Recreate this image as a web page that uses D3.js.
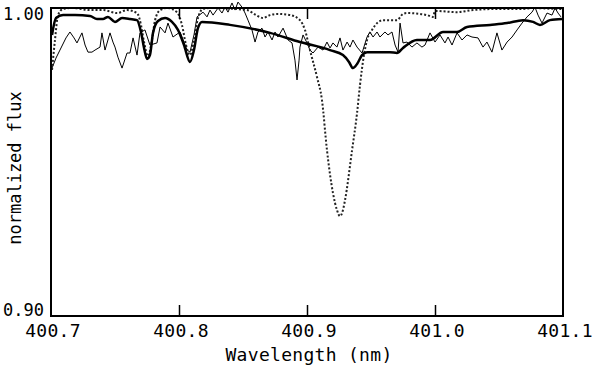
<!DOCTYPE html>
<html lang="en">
<head>
    <meta charset="UTF-8">
    <title>Normalized flux spectrum</title>
    <script src="https://d3js.org/d3.v7.min.js"></script>
    <style>
        body {
            margin: 0;
            background-color: white;
        }
        .lbl {
            font-family: 'DejaVu Sans Mono', monospace;
            font-size: 18px;
            letter-spacing: 0.3px;
            fill: #000;
        }
        .ylbl {
            font-size: 17px;
            letter-spacing: 0;
        }
    </style>
</head>
<body>
    <div id="chart"></div>

    <script>
        // Axis ticks
        const xTicks = [400.7, 400.8, 400.9, 401.0, 401.1];
        const xTickLabels = ["400.7", "400.8", "400.9", "401.0", "401.1"];
        const yTicks = [0.90, 1.00];
        const yTickLabels = ["0.90", "1.00"];

        // Thick solid line (smooth model)
        const modelWl = [400.7008, 400.7039, 400.7094, 400.7188, 400.7305, 400.7359, 400.7406, 400.7445, 400.7500, 400.7555,
            400.7617, 400.7672, 400.7703, 400.7727, 400.7750, 400.7773, 400.7797, 400.7836, 400.7891, 400.7945,
            400.7992, 400.8039, 400.8086, 400.8117, 400.8148, 400.8180, 400.8398, 400.8711, 400.8945, 400.9180,
            400.9281, 400.9328, 400.9359, 400.9391, 400.9430, 400.9469, 400.9648, 400.9703, 400.9750, 400.9859,
            400.9961, 401.0063, 401.0172, 401.0250, 401.0430, 401.0563, 401.0688, 401.0766, 401.0820, 401.0898, 401.0992];
        const modelFlux = [0.9929, 0.9986, 0.9996, 0.9996, 0.9993, 0.9983, 0.9983, 0.9990, 0.9973, 0.9986,
            0.9983, 0.9979, 0.9939, 0.9885, 0.9848, 0.9861, 0.9936, 0.9976, 0.9986, 0.9973,
            0.9946, 0.9895, 0.9838, 0.9878, 0.9952, 0.9973, 0.9963, 0.9936, 0.9905, 0.9878,
            0.9861, 0.9838, 0.9817, 0.9831, 0.9861, 0.9871, 0.9871, 0.9868, 0.9885, 0.9912,
            0.9912, 0.9939, 0.9939, 0.9956, 0.9963, 0.9969, 0.9979, 0.9973, 0.9963, 0.9979, 0.9983];

        // Dotted line (second model with the deep line)
        const dotWl = [400.7008, 400.7031, 400.7055, 400.7094, 400.7172, 400.7305, 400.7406, 400.7516, 400.7594, 400.7672,
            400.7703, 400.7727, 400.7758, 400.7789, 400.7813, 400.7852, 400.7906, 400.7984, 400.8023, 400.8055,
            400.8086, 400.8117, 400.8148, 400.8188, 400.8242, 400.8531, 400.8602, 400.8656, 400.8711, 400.8766,
            400.8867, 400.8945, 400.8984, 400.9023, 400.9078, 400.9117, 400.9156, 400.9203, 400.9234, 400.9258,
            400.9281, 400.9297, 400.9352, 400.9391, 400.9414, 400.9445, 400.9469, 400.9508, 400.9594, 400.9703,
            400.9750, 400.9781, 400.9938, 400.9984, 401.0000, 401.0172, 401.0297, 401.0508, 401.0688, 401.0766,
            401.0953, 401.0992];
        const dotFlux = [0.9811, 0.9912, 0.9996, 1.0017, 1.0020, 1.0013, 1.0013, 1.0003, 1.0013, 1.0003,
            0.9963, 0.9905, 0.9858, 0.9912, 0.9979, 1.0013, 1.0020, 1.0006, 0.9963, 0.9895,
            0.9861, 0.9912, 0.9986, 1.0017, 1.0020, 1.0013, 0.9996, 0.9986, 0.9996, 1.0000,
            0.9996, 0.9979, 0.9946, 0.9878, 0.9787, 0.9709, 0.9540, 0.9395, 0.9338, 0.9317,
            0.9338, 0.9371, 0.9540, 0.9665, 0.9760, 0.9861, 0.9912, 0.9946, 0.9979, 0.9979,
            1.0000, 1.0003, 0.9996, 0.9990, 1.0010, 1.0006, 1.0013, 1.0017, 1.0017, 1.0020,
            1.0017, 1.0017];

        // Thin solid line (observed spectrum)
        const obsWl = [400.7008, 400.7039, 400.7070, 400.7117, 400.7148, 400.7180, 400.7203, 400.7242, 400.7266, 400.7289,
            400.7320, 400.7344, 400.7383, 400.7398, 400.7422, 400.7461, 400.7484, 400.7500, 400.7523, 400.7555,
            400.7594, 400.7617, 400.7641, 400.7672, 400.7695, 400.7734, 400.7773, 400.7828, 400.7852, 400.7891,
            400.7914, 400.7953, 400.8008, 400.8039, 400.8063, 400.8086, 400.8117, 400.8141, 400.8188, 400.8219,
            400.8242, 400.8266, 400.8305, 400.8336, 400.8359, 400.8383, 400.8414, 400.8438, 400.8461, 400.8492,
            400.8516, 400.8539, 400.8570, 400.8594, 400.8617, 400.8648, 400.8672, 400.8695, 400.8727, 400.8750,
            400.8773, 400.8813, 400.8852, 400.8883, 400.8906, 400.8922, 400.8938, 400.8945, 400.8969, 400.9000,
            400.9023, 400.9047, 400.9086, 400.9125, 400.9156, 400.9180, 400.9203, 400.9234, 400.9258, 400.9281,
            400.9313, 400.9336, 400.9359, 400.9391, 400.9430, 400.9469, 400.9492, 400.9516, 400.9547, 400.9570,
            400.9609, 400.9633, 400.9664, 400.9688, 400.9711, 400.9727, 400.9750, 400.9781, 400.9820, 400.9859,
            400.9898, 400.9922, 400.9961, 401.0000, 401.0039, 401.0078, 401.0102, 401.0133, 401.0172, 401.0211,
            401.0250, 401.0289, 401.0336, 401.0375, 401.0406, 401.0445, 401.0484, 401.0523, 401.0563, 401.0602,
            401.0641, 401.0680, 401.0719, 401.0758, 401.0781, 401.0805, 401.0836, 401.0875, 401.0914, 401.0938,
            401.0961, 401.0984];
        const obsFlux = [0.9817, 0.9851, 0.9878, 0.9919, 0.9939, 0.9919, 0.9902, 0.9936, 0.9895, 0.9871,
            0.9871, 0.9878, 0.9888, 0.9936, 0.9878, 0.9936, 0.9905, 0.9888, 0.9854, 0.9817,
            0.9868, 0.9868, 0.9919, 0.9861, 0.9936, 0.9946, 0.9895, 0.9902, 0.9956, 0.9936,
            0.9969, 0.9922, 0.9939, 0.9905, 0.9878, 0.9871, 0.9929, 0.9990, 1.0006, 0.9990,
            1.0013, 0.9996, 1.0020, 1.0003, 1.0023, 1.0006, 1.0037, 1.0013, 1.0040, 1.0023,
            1.0003, 0.9979, 0.9946, 0.9905, 0.9939, 0.9952, 0.9922, 0.9939, 0.9912, 0.9939,
            0.9922, 0.9952, 0.9912, 0.9902, 0.9844, 0.9777, 0.9844, 0.9888, 0.9929, 0.9902,
            0.9878, 0.9868, 0.9888, 0.9878, 0.9905, 0.9885, 0.9902, 0.9888, 0.9919, 0.9878,
            0.9905, 0.9888, 0.9912, 0.9888, 0.9868, 0.9922, 0.9939, 0.9922, 0.9939, 0.9922,
            0.9939, 0.9929, 0.9939, 0.9895, 0.9871, 0.9969, 0.9902, 0.9905, 0.9888, 0.9902,
            0.9888, 0.9895, 0.9936, 0.9905, 0.9929, 0.9902, 0.9922, 0.9895, 0.9936, 0.9912,
            0.9929, 0.9922, 0.9919, 0.9888, 0.9905, 0.9871, 0.9936, 0.9878, 0.9905, 0.9922,
            0.9946, 0.9969, 0.9990, 1.0006, 1.0023, 0.9996, 0.9969, 1.0003, 0.9996, 1.0020,
            1.0003, 0.9990];

        const W = 593, H = 368;
        const margin = {top: 8, right: 30, bottom: 52, left: 51};

        const svg = d3.select("#chart")
            .append("svg")
            .attr("width", W)
            .attr("height", H);

        const x = d3.scaleLinear()
            .domain([400.7, 401.1])
            .range([margin.left, W - margin.right]);

        const y = d3.scaleLinear()
            .domain([0.898, 1.002])
            .range([H - margin.bottom, margin.top]);

        const toPts = (wl, fl) => wl.map((w, i) => [w, fl[i]]);

        const line = d3.line()
            .x(d => x(d[0]))
            .y(d => y(d[1]));

        const smooth = d3.line()
            .x(d => x(d[0]))
            .y(d => y(d[1]))
            .curve(d3.curveMonotoneX);

        // observed (thin)
        svg.append("path")
            .datum(toPts(obsWl, obsFlux))
            .attr("fill", "none")
            .attr("stroke", "#000")
            .attr("stroke-width", 1)
            .attr("d", line);

        // dotted model
        svg.append("path")
            .datum(toPts(dotWl, dotFlux))
            .attr("fill", "none")
            .attr("stroke", "#222")
            .attr("stroke-width", 2)
            .attr("stroke-dasharray", "2,2")
            .attr("d", smooth);

        // thick model
        svg.append("path")
            .datum(toPts(modelWl, modelFlux))
            .attr("fill", "none")
            .attr("stroke", "#000")
            .attr("stroke-width", 2.5)
            .attr("d", smooth);

        // frame
        const x0 = x.range()[0], x1 = x.range()[1];
        const y0 = y.range()[0], y1 = y.range()[1];
        svg.append("rect")
            .attr("x", x0)
            .attr("y", y1)
            .attr("width", x1 - x0)
            .attr("height", y0 - y1)
            .attr("fill", "none")
            .attr("stroke", "#000")
            .attr("stroke-width", 2);

        // bottom and top ticks
        const inner = xTicks.slice(1, -1);
        svg.append("g").attr("transform", `translate(0,${y0})`)
            .call(d3.axisBottom(x).tickValues(inner).tickSize(-11).tickFormat(""))
            .call(g => g.select(".domain").remove())
            .call(g => g.selectAll("line").attr("stroke-width", 1.5));
        svg.append("g").attr("transform", `translate(0,${y1})`)
            .call(d3.axisTop(x).tickValues(inner).tickSize(-11).tickFormat(""))
            .call(g => g.select(".domain").remove())
            .call(g => g.selectAll("line").attr("stroke-width", 1.5));

        // x tick labels
        svg.selectAll(".xl")
            .data(xTicks)
            .enter().append("text")
            .attr("class", "lbl")
            .attr("x", d => x(d) + 2)
            .attr("y", y0 + 21)
            .attr("text-anchor", "middle")
            .text((d, i) => xTickLabels[i]);

        // y tick labels
        svg.selectAll(".yl")
            .data(yTicks)
            .enter().append("text")
            .attr("class", "lbl ylbl")
            .attr("x", x0 - 7)
            .attr("y", d => y(d))
            .attr("dy", "0.35em")
            .attr("text-anchor", "end")
            .text((d, i) => yTickLabels[i]);

        // axis titles
        svg.append("text")
            .attr("class", "lbl")
            .attr("x", (x0 + x1) / 2 + 2)
            .attr("y", H - 7)
            .attr("text-anchor", "middle")
            .text("Wavelength (nm)");

        svg.append("text")
            .attr("class", "lbl ylbl")
            .attr("transform", `translate(21,${(y0 + y1) / 2 + 6}) rotate(-90)`)
            .attr("text-anchor", "middle")
            .text("normalized flux");
    </script>
</body>
</html>
